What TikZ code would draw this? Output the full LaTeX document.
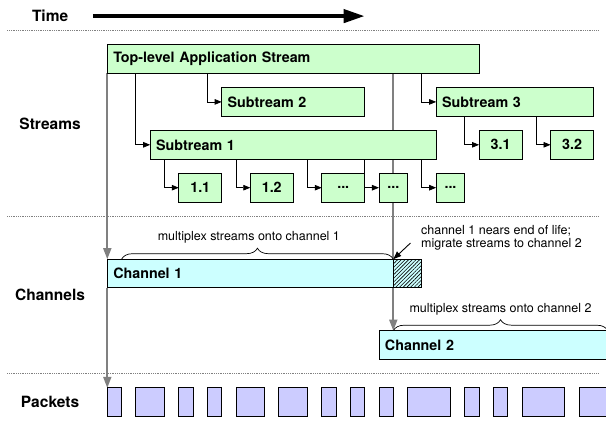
\documentclass[tikz,border=0pt]{standalone}
\usepackage{fontspec}
\setmainfont{TeX Gyre Heros}
\usetikzlibrary{arrows.meta,patterns.meta,decorations.pathreplacing,calc}
\definecolor{gfill}{HTML}{CCFFCC}
\definecolor{cfill}{HTML}{CCFFFF}
\definecolor{pfill}{HTML}{CCCCFF}
\definecolor{gline}{HTML}{808080}
\pgfdeclarelayer{bg}
\pgfsetlayers{bg,main}
\tikzset{
  box/.style={draw=black, line width=0.9pt, outer sep=0pt, anchor=north west,
    minimum height=28.6pt, font=\fontsize{14.3}{16}\selectfont\bfseries},
  wbox/.style={box, fill=gfill, align=left, inner xsep=6pt, inner ysep=0pt},
  sbox/.style={box, fill=gfill, inner sep=0pt, minimum width=#1},
  cbox/.style={box, fill=cfill, align=left, inner xsep=6pt, inner ysep=0pt},
  pk/.style={draw=black, line width=0.9pt, fill=pfill, outer sep=0pt, anchor=north west,
    inner sep=0pt, minimum height=28.6pt, minimum width=#1},
  lab/.style={font=\fontsize{15.5}{17}\selectfont\bfseries},
  small/.style={font=\fontsize{12.5}{12.8}\selectfont},
  garr/.style={draw=gline, line width=1.7pt, -{Triangle[length=11pt,width=8pt]}},
  conn/.style={draw=black, line width=0.8pt, -{Triangle[length=7pt,width=5.5pt]}},
  dotl/.style={draw=gray, line width=0.6pt, dash pattern=on 0.6pt off 1.2pt},
  tarr/.style={line width=4pt, -{Triangle[length=21pt,width=13pt]}},
  brc/.style={draw=black, line width=0.7pt, decorate, decoration={brace, amplitude=11pt}},
  narr/.style={draw=black, line width=0.9pt, -{Triangle[length=8pt,width=6pt]}}
}
\begin{document}
\begin{tikzpicture}[x=14.3pt,y=-14.3pt]
\useasboundingbox (-7.503,-3.126) rectangle (34.875,26.385);

% row labels
\node[lab] (ltime) at (-4,-2) {Time};
\node[lab] (lstr) at (-4,5.5) {Streams};
\node[lab] (lch) at (-4,17.5) {Channels};
\node[lab] (lpk) at (-4,25) {Packets};

% time arrow
\coordinate (ts) at (-1,-2);
\coordinate (te) at (18,-2);
\draw[tarr] (ts) -- (te);

% dotted separators
\coordinate (d1a) at (-7,-1);  \coordinate (d1b) at (34.3,-1);
\coordinate (d2a) at (-7,12);  \coordinate (d2b) at (34.3,12);
\coordinate (d3a) at (-7,23);  \coordinate (d3b) at (34.3,23);
\draw[dotl] (d1a) -- (d1b);
\draw[dotl] (d2a) -- (d2b);
\draw[dotl] (d3a) -- (d3b);

% streams
\node[wbox, text width=359.8pt] (top) at (0,0) {Top-level Application Stream};
\node[wbox, text width=131pt] (sub2) at (8,3) {Subtream 2};
\node[wbox, text width=145.3pt] (sub3) at (23,3) {Subtream 3};
\node[wbox, text width=274pt] (sub1) at (3,6) {Subtream 1};
\node[sbox=42.9pt] (c11) at (5,9) {1.1};
\node[sbox=42.9pt] (c12) at (10,9) {1.2};
\node[sbox=42.9pt] (c13) at (15,9) {...};
\node[sbox=28.6pt] (c14) at (19,9) {...};
\node[sbox=28.6pt] (c15) at (23,9) {...};
\node[sbox=42.9pt] (c31) at (26,6) {3.1};
\node[sbox=42.9pt] (c32) at (31,6) {3.2};

% channels
\node[cbox, text width=302.6pt] (ch1) at (0,15) {Channel 1};
\node[box, minimum width=28.6pt, inner sep=0pt,
  postaction={pattern={Lines[angle=45,distance=2.6pt,line width=0.6pt]}}] (ch1h) at (20,15) {};
\node[cbox, text width=231.1pt] (ch2) at (19,20) {Channel 2};

% packets
\node[pk=14.3pt] (p1) at (0,24) {};
\node[pk=28.6pt] (p2) at (2,24) {};
\node[pk=14.3pt] (p3) at (5,24) {};
\node[pk=14.3pt] (p4) at (7,24) {};
\node[pk=28.6pt] (p5) at (9,24) {};
\node[pk=28.6pt] (p6) at (12,24) {};
\node[pk=14.3pt] (p7) at (15,24) {};
\node[pk=14.3pt] (p8) at (17,24) {};
\node[pk=14.3pt] (p9) at (19,24) {};
\node[pk=42.9pt] (p10) at (21,24) {};
\node[pk=14.3pt] (p11) at (25,24) {};
\node[pk=14.3pt] (p12) at (27,24) {};
\node[pk=42.9pt] (p13) at (29,24) {};
\node[pk=28.6pt] (p14) at (33,24) {};

% background gray lines
\begin{pgfonlayer}{bg}
\draw[garr] (top.south west) -- (ch1.north west);
\draw[garr] (ch1.south west) -- (p1.north west);
\draw[garr] (ch1h.north west |- top.south) -- (ch1h.north west |- ch2.north);
\end{pgfonlayer}

% black connectors
\draw[conn] ([xshift=28.6pt]top.south west) |- (sub1.west);
\draw[conn] ([xshift=100.1pt]top.south west) |- (sub2.west);
\draw[conn] ([xshift=314.6pt]top.south west) |- (sub3.west);
\draw[conn] ([xshift=14.3pt]sub1.south west) |- (c11.west);
\draw[conn] ([xshift=85.8pt]sub1.south west) |- (c12.west);
\draw[conn] ([xshift=157.3pt]sub1.south west) |- (c13.west);
\draw[conn] ([xshift=214.5pt]sub1.south west) |- (c14.west);
\draw[conn] ([xshift=271.7pt]sub1.south west) |- (c15.west);
\draw[conn] ([xshift=28.6pt]sub3.south west) |- (c31.west);
\draw[conn] ([xshift=100.1pt]sub3.south west) |- (c32.west);

% braces and annotations
\coordinate (b1s) at (1,15);
\draw[brc] (b1s) -- (ch1h.north west);
\node[small] (m1) at (9.9,13.5) {multiplex streams onto channel 1};
\coordinate (b2s) at (20,20);
\coordinate (b2e) at (35,20);
\draw[brc] (b2s) -- (b2e);
\node[small] (m2) at (27.5,18.5) {multiplex streams onto channel 2};
\node[small, anchor=west, align=left] (note) at (21.7,13.5) {channel 1 nears end of life;\\migrate streams to channel 2};
\coordinate (na) at (21.2,13.87);
\draw[narr] (na) -- (ch1h.north west);
\end{tikzpicture}
\end{document}
